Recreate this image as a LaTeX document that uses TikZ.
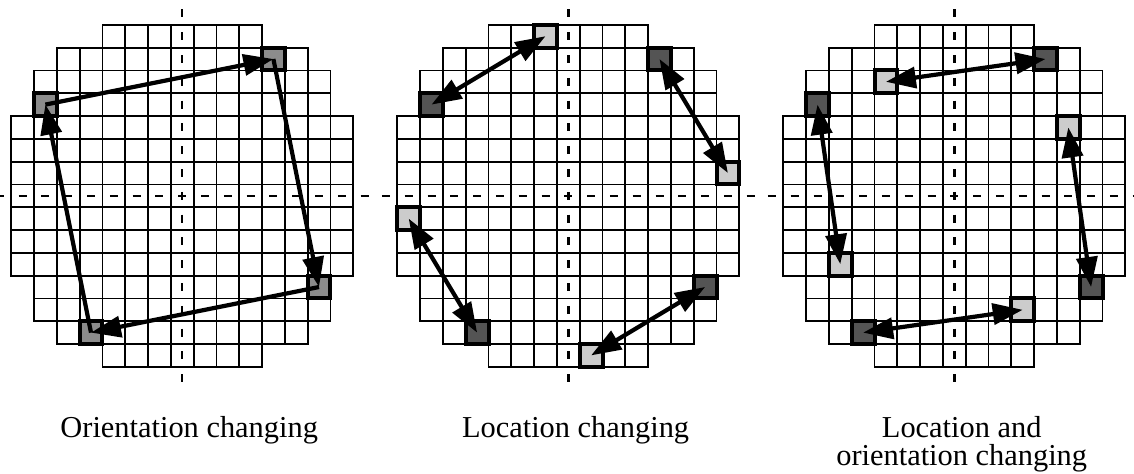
\documentclass[tikz,border=0pt]{standalone}
\usepackage{fontspec}
\setmainfont{Liberation Serif}
\usetikzlibrary{arrows.meta}

\definecolor{midcell}{gray}{0.55}
\definecolor{darkcell}{gray}{0.33}
\definecolor{lightcell}{gray}{0.80}

\tikzset{
  cellline/.style={draw=black, line width=0.9pt},
  axisdash/.style={draw=black, line width=1.2pt},
  hicell/.style={draw=black, line width=2pt, minimum size=11.4pt, inner sep=0pt, outer sep=0pt},
  movearrow/.style={line width=2.1pt, -{Triangle[length=15pt,width=10.5pt]}},
  swaparrow/.style={line width=2.1pt, {Triangle[length=15pt,width=10.5pt]}-{Triangle[length=15pt,width=10.5pt]}},
  caption/.style={font=\fontsize{15.2}{13.9}\selectfont, anchor=base, align=center, inner sep=0pt}
}

\begin{document}
\begin{tikzpicture}[x=0.5pt,y=-0.5pt]
\useasboundingbox (0,0) rectangle (1134,473);
\fill[white] (0,0) rectangle (1134,473);

% three wafer maps: die grid plus dashed centre axes
\foreach \cx in {182.2, 568.3, 954.3} {
  \begin{scope}[shift={(\cx,195.8)}]
    \foreach \r/\a/\b in {0/4/10,1/2/12,2/1/13,3/1/13,4/0/14,5/0/14,6/0/14,7/0/14,
                          8/0/14,9/0/14,10/0/14,11/1/13,12/1/13,13/2/12,14/4/10}
      \foreach \c in {\a,...,\b}
        \draw[cellline] ({(\c-7.5)*22.8},{(\r-7.5)*22.8}) rectangle +(22.8,22.8);
    \foreach \k in {-8,...,8} {
      \draw[axisdash] ({\k*22.8-4},0) -- ({\k*22.8+4},0);
      \draw[axisdash] (0,{\k*22.8-4}) -- (0,{\k*22.8+4});
    }
  \end{scope}
}

% wafer 1: orientation changing
\begin{scope}[shift={(182.2,195.8)}]
  \node[hicell, fill=midcell] (oa) at ({-6*22.8},{-4*22.8}) {};
  \node[hicell, fill=midcell] (ob) at ({4*22.8},{-6*22.8}) {};
  \node[hicell, fill=midcell] (oc) at ({6*22.8},{4*22.8}) {};
  \node[hicell, fill=midcell] (od) at ({-4*22.8},{6*22.8}) {};
\end{scope}
\draw[movearrow] (oa.center) -- (ob.center);
\draw[movearrow] (ob.center) -- (oc.center);
\draw[movearrow] (oc.center) -- (od.center);
\draw[movearrow] (od.center) -- (oa.center);

% wafer 2: location changing
\begin{scope}[shift={(568.3,195.8)}]
  \node[hicell, fill=darkcell]  (la) at ({-6*22.8},{-4*22.8}) {};
  \node[hicell, fill=darkcell]  (lb) at ({4*22.8},{-6*22.8}) {};
  \node[hicell, fill=darkcell]  (lc) at ({6*22.8},{4*22.8}) {};
  \node[hicell, fill=darkcell]  (ld) at ({-4*22.8},{6*22.8}) {};
  \node[hicell, fill=lightcell] (le) at ({-1*22.8},{-7*22.8}) {};
  \node[hicell, fill=lightcell] (lf) at ({7*22.8},{-1*22.8}) {};
  \node[hicell, fill=lightcell] (lg) at ({1*22.8},{7*22.8}) {};
  \node[hicell, fill=lightcell] (lh) at ({-7*22.8},{1*22.8}) {};
\end{scope}
\draw[swaparrow] (le.center) -- (la.center);
\draw[swaparrow] (lb.center) -- (lf.center);
\draw[swaparrow] (lh.center) -- (ld.center);
\draw[swaparrow] (lc.center) -- (lg.center);

% wafer 3: location and orientation changing
\begin{scope}[shift={(954.3,195.8)}]
  \node[hicell, fill=darkcell]  (ba) at ({-6*22.8},{-4*22.8}) {};
  \node[hicell, fill=darkcell]  (bb) at ({4*22.8},{-6*22.8}) {};
  \node[hicell, fill=darkcell]  (bc) at ({6*22.8},{4*22.8}) {};
  \node[hicell, fill=darkcell]  (bd) at ({-4*22.8},{6*22.8}) {};
  \node[hicell, fill=lightcell] (be) at ({-3*22.8},{-5*22.8}) {};
  \node[hicell, fill=lightcell] (bf) at ({5*22.8},{-3*22.8}) {};
  \node[hicell, fill=lightcell] (bg) at ({3*22.8},{5*22.8}) {};
  \node[hicell, fill=lightcell] (bh) at ({-5*22.8},{3*22.8}) {};
\end{scope}
\draw[swaparrow] (be.center) -- (bb.center);
\draw[swaparrow] (ba.center) -- (bh.center);
\draw[swaparrow] (bf.center) -- (bc.center);
\draw[swaparrow] (bd.center) -- (bg.center);

% captions (a two-line node sits on the baseline of its last line)
\node[caption] (capa) at (189.2,437.3) {Orientation changing};
\node[caption] (capb) at (575.6,437.3) {Location changing};
\node[caption] (capc) at (961.7,465.0) {Location and\\orientation changing};
\end{tikzpicture}
\end{document}
